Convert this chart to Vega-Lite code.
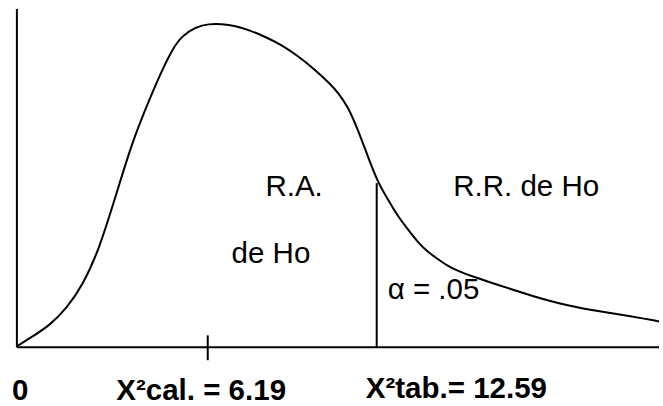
{
  "$schema": "https://vega.github.io/schema/vega-lite/v6.json",
  "autosize": {"type": "fit", "contains": "padding"},
  "width": 663,
  "height": 406,
  "padding": 0,
  "background": "white",
  "config": {"view": {"stroke": null}, "text": {"font": "Liberation Sans"}},
  "datasets": {
    "curve": [
      {"x": 17, "y": 58}, {"x": 33, "y": 68}, {"x": 50, "y": 79}, {"x": 67, "y": 96},
      {"x": 83, "y": 119}, {"x": 100, "y": 156}, {"x": 117, "y": 211}, {"x": 133, "y": 263},
      {"x": 147, "y": 298}, {"x": 160, "y": 329}, {"x": 173, "y": 356}, {"x": 183, "y": 370},
      {"x": 197, "y": 379}, {"x": 210, "y": 382}, {"x": 223, "y": 382}, {"x": 237, "y": 380},
      {"x": 250, "y": 376}, {"x": 267, "y": 369}, {"x": 283, "y": 361}, {"x": 298, "y": 351},
      {"x": 317, "y": 336}, {"x": 333, "y": 321}, {"x": 340, "y": 313}, {"x": 350, "y": 299},
      {"x": 360, "y": 276}, {"x": 370, "y": 249}, {"x": 380, "y": 223}, {"x": 390, "y": 206},
      {"x": 400, "y": 189}, {"x": 410, "y": 176}, {"x": 420, "y": 163}, {"x": 430, "y": 153},
      {"x": 440, "y": 146}, {"x": 450, "y": 139}, {"x": 460, "y": 134}, {"x": 473, "y": 129},
      {"x": 503, "y": 119}, {"x": 537, "y": 108}, {"x": 570, "y": 99}, {"x": 603, "y": 93},
      {"x": 637, "y": 88}, {"x": 663, "y": 83}
    ],
    "lines": [
      {"x": 17, "x2": 17, "y": 57, "y2": 397},
      {"x": 17, "x2": 663, "y": 57, "y2": 57},
      {"x": 209, "x2": 209, "y": 44, "y2": 69},
      {"x": 379, "x2": 379, "y": 57, "y2": 222}
    ],
    "labels": [
      {"label": "R.A.", "x": 267, "y": 209},
      {"label": "de Ho", "x": 233, "y": 142},
      {"label": "R.R. de Ho", "x": 456, "y": 209},
      {"label": "α = .05", "x": 390, "y": 106}
    ],
    "bottom": [
      {"label": "0", "x": 12, "y": 4},
      {"label": "X²cal. = 6.19", "x": 117, "y": 4},
      {"label": "X²tab.= 12.59", "x": 368, "y": 6}
    ]
  },
  "layer": [
    {
      "data": {"name": "lines"},
      "mark": {"type": "rule", "color": "black", "strokeWidth": 2},
      "encoding": {
        "x": {"field": "x", "type": "quantitative", "scale": {"domain": [0, 663], "nice": false, "zero": false}, "axis": null},
        "x2": {"field": "x2"},
        "y": {"field": "y", "type": "quantitative", "scale": {"domain": [0, 406], "nice": false, "zero": false}, "axis": null},
        "y2": {"field": "y2"}
      }
    },
    {
      "data": {"name": "curve"},
      "mark": {"type": "line", "color": "black", "strokeWidth": 2, "interpolate": "basis"},
      "encoding": {
        "x": {"field": "x", "type": "quantitative"},
        "y": {"field": "y", "type": "quantitative"}
      }
    },
    {
      "data": {"name": "labels"},
      "mark": {"type": "text", "align": "left", "baseline": "alphabetic", "fontSize": 29.5, "color": "black"},
      "encoding": {
        "x": {"field": "x", "type": "quantitative"},
        "y": {"field": "y", "type": "quantitative"},
        "text": {"field": "label"}
      }
    },
    {
      "data": {"name": "bottom"},
      "mark": {"type": "text", "align": "left", "baseline": "alphabetic", "fontSize": 29.5, "fontWeight": "bold", "color": "black"},
      "encoding": {
        "x": {"field": "x", "type": "quantitative"},
        "y": {"field": "y", "type": "quantitative"},
        "text": {"field": "label"}
      }
    }
  ]
}
